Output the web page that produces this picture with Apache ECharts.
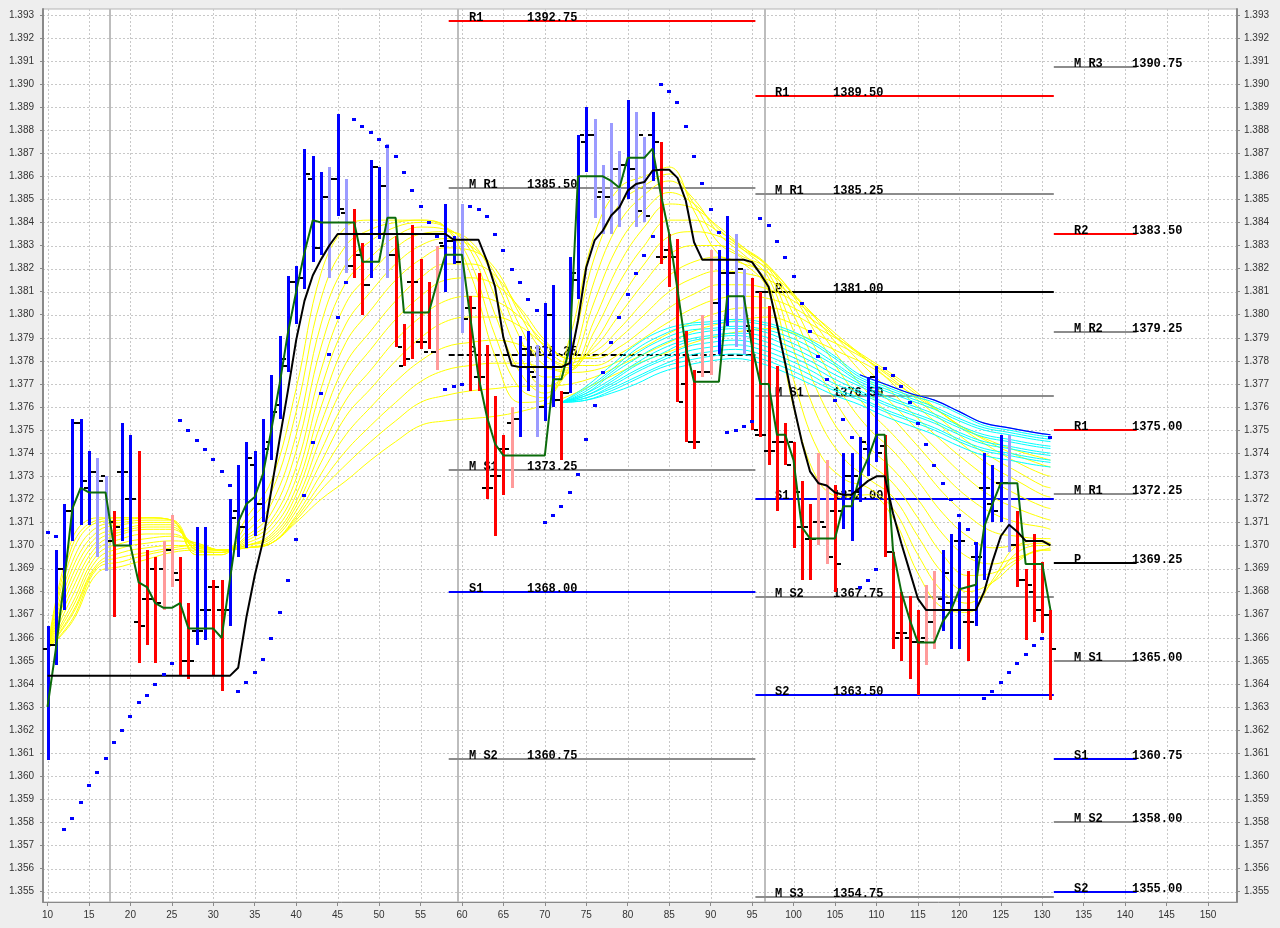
<!DOCTYPE html>
<html>
<head>
<meta charset="utf-8">
<script src="https://cdn.jsdelivr.net/npm/echarts@6/dist/echarts.min.js"></script>
<style>
html,body{margin:0;padding:0;background:#eeeeee;}
#chart{width:1280px;height:928px;}
</style>
</head>
<body>
<div id="chart"></div>
<script>
// ---------------- DATA ----------------
const xStart = 10; // first bar index
const xTicks = [10,15,20,25,30,35,40,45,50,55,60,65,70,75,80,85,90,95,100,105,110,115,120,125,130,135,140,145,150];
const yTicks = [1.355,1.356,1.357,1.358,1.359,1.360,1.361,1.362,1.363,1.364,1.365,1.366,1.367,1.368,1.369,1.370,1.371,1.372,1.373,1.374,1.375,1.376,1.377,1.378,1.379,1.380,1.381,1.382,1.383,1.384,1.385,1.386,1.387,1.388,1.389,1.390,1.391,1.392,1.393];

const highs = [
1.3665,1.3698,1.3718,1.3755,1.3755,1.3741,1.3738,1.3730,1.3715,1.3753,
1.3748,1.3741,1.3698,1.3695,1.3702,1.3713,1.3695,1.3675,1.3708,1.3708,
1.3685,1.3685,1.3720,1.3735,1.3745,1.3741,1.3755,1.3774,1.3791,1.3817,
1.3821,1.3872,1.3869,1.3862,1.3864,1.3887,1.3859,1.3846,1.3831,1.3867,
1.3864,1.3874,1.3834,1.3796,1.3839,1.3824,1.3814,1.3830,1.3848,1.3834,
1.3848,1.3808,1.3818,1.3787,1.3765,1.3748,1.3760,1.3791,1.3793,1.3787,
1.3805,1.3813,1.3767,1.3825,1.3878,1.3890,1.3885,1.3865,1.3883,1.3871,
1.3893,1.3888,1.3877,1.3888,1.3875,1.3835,1.3833,1.3793,1.3776,1.3800,
1.3828,1.3828,1.3843,1.3835,1.3820,1.3816,1.3810,1.3804,1.3778,1.3753,
1.3745,1.3728,1.3718,1.3740,1.3737,1.3726,1.3740,1.3740,1.3747,1.3773,
1.3778,1.3748,1.3697,1.3680,1.3678,1.3672,1.3683,1.3689,1.3698,1.3705,
1.3710,1.3689,1.3701,1.3740,1.3735,1.3748,1.3748,1.3715,1.3690,1.3705,
1.3693,1.3672];
const lows = [
1.3607,1.3648,1.3672,1.3702,1.3709,1.3709,1.3695,1.3689,1.3669,1.3702,
1.3700,1.3649,1.3657,1.3649,1.3672,1.3682,1.3644,1.3642,1.3657,1.3659,
1.3644,1.3637,1.3665,1.3695,1.3699,1.3704,1.3710,1.3737,1.3755,1.3775,
1.3796,1.3811,1.3823,1.3826,1.3816,1.3843,1.3818,1.3816,1.3800,1.3816,
1.3833,1.3816,1.3786,1.3778,1.3781,1.3785,1.3785,1.3776,1.3810,1.3822,
1.3792,1.3767,1.3767,1.3720,1.3704,1.3722,1.3725,1.3747,1.3767,1.3747,
1.3754,1.3760,1.3737,1.3766,1.3807,1.3862,1.3842,1.3835,1.3835,1.3838,
1.3850,1.3838,1.3840,1.3858,1.3822,1.3812,1.3762,1.3745,1.3742,1.3773,
1.3774,1.3783,1.3795,1.3786,1.3783,1.3750,1.3747,1.3735,1.3715,1.3735,
1.3699,1.3685,1.3685,1.3700,1.3692,1.3680,1.3707,1.3702,1.3719,1.3730,
1.3736,1.3695,1.3655,1.3650,1.3642,1.3635,1.3648,1.3655,1.3663,1.3655,
1.3655,1.3650,1.3665,1.3685,1.3710,1.3710,1.3697,1.3682,1.3659,1.3667,
1.3662,1.3633];
const opens = [
1.3655,1.3657,1.3690,1.3715,1.3753,1.3725,1.3732,1.3730,1.3710,1.3732,
1.3720,1.3667,1.3677,1.3690,1.3690,1.3698,1.3685,1.3650,1.3663,1.3672,
1.3682,1.3672,1.3672,1.3715,1.3708,1.3735,1.3718,1.3745,1.3761,1.3778,
1.3814,1.3816,1.3859,1.3829,1.3851,1.3859,1.3844,1.3821,1.3826,1.3813,
1.3864,1.3856,1.3826,1.3778,1.3814,1.3788,1.3784,1.3784,1.3830,1.3832,
1.3823,1.3803,1.3773,1.3725,1.3730,1.3742,1.3753,1.3755,1.3785,1.3773,
1.3760,1.3800,1.3763,1.3766,1.3815,1.3875,1.3878,1.3853,1.3851,1.3863,
1.3865,1.3863,1.3878,1.3878,1.3825,1.3828,1.3825,1.3770,1.3745,1.3775,
1.3775,1.3805,1.3818,1.3818,1.3820,1.3793,1.3748,1.3741,1.3745,1.3745,
1.3745,1.3708,1.3703,1.3710,1.3708,1.3715,1.3715,1.3730,1.3723,1.3742,
1.3773,1.3743,1.3697,1.3662,1.3660,1.3658,1.3660,1.3667,1.3677,1.3675,
1.3702,1.3667,1.3695,1.3725,1.3718,1.3727,1.3727,1.3700,1.3685,1.3680,
1.3672,1.3670];
const closes = [
1.3657,1.3690,1.3715,1.3753,1.3728,1.3732,1.3728,1.3702,1.3708,1.3732,
1.3720,1.3665,1.3677,1.3675,1.3698,1.3688,1.3650,1.3650,1.3663,1.3672,
1.3682,1.3672,1.3712,1.3708,1.3738,1.3718,1.3742,1.3758,1.3781,1.3814,
1.3816,1.3861,1.3829,1.3851,1.3859,1.3846,1.3821,1.3826,1.3813,1.3864,
1.3856,1.3826,1.3786,1.3781,1.3814,1.3788,1.3784,1.3831,1.3832,1.3823,
1.3798,1.3803,1.3773,1.3725,1.3730,1.3742,1.3755,1.3785,1.3775,1.3760,
1.3800,1.3763,1.3766,1.3818,1.3878,1.3878,1.3851,1.3851,1.3863,1.3865,
1.3863,1.3845,1.3843,1.3875,1.3825,1.3825,1.3762,1.3745,1.3745,1.3775,
1.3805,1.3818,1.3818,1.3820,1.3795,1.3750,1.3748,1.3741,1.3745,1.3735,
1.3723,1.3708,1.3703,1.3710,1.3695,1.3692,1.3730,1.3730,1.3745,1.3773,
1.3740,1.3697,1.3660,1.3662,1.3658,1.3658,1.3667,1.3672,1.3688,1.3672,
1.3702,1.3667,1.3695,1.3725,1.3715,1.3727,1.3700,1.3685,1.3683,1.3672,
1.3670,1.3655];
// B = blue, b = light blue, R = red, r = light red
const barColors = "BBBBBBbbRB" + "BRRRrrRRBB" + "RRBBBBBBBB" + "BBBBbBbRRB" + "BbRRRRRrBB" +
                  "bRRRRRrBBb" + "BBRBBBbbbb" + "BbbBRRRRRr" + "rBBbbRRRRR" + "RRRrrRBBBB" +
                  "BRRRRRrrBB" + "BRBBBBbRRR" + "RR";

const greenLine = [
1.3630,1.3655,1.3684,1.3716,1.3725,1.3723,1.3723,1.3723,1.3700,1.3700,
1.3700,1.3684,1.3682,1.3675,1.3673,1.3673,1.3675,1.3664,1.3664,1.3664,
1.3664,1.3660,1.3685,1.3710,1.3718,1.3721,1.3731,1.3750,1.3770,1.3792,
1.3810,1.3827,1.3841,1.3840,1.3840,1.3840,1.3840,1.3840,1.3823,1.3823,
1.3823,1.3842,1.3842,1.3801,1.3801,1.3801,1.3801,1.3814,1.3826,1.3826,
1.3826,1.3799,1.3773,1.3756,1.3744,1.3739,1.3739,1.3739,1.3739,1.3739,
1.3739,1.3772,1.3772,1.3786,1.3860,1.3860,1.3860,1.3860,1.3858,1.3855,
1.3868,1.3868,1.3868,1.3872,1.3852,1.3835,1.3811,1.3786,1.3771,1.3771,
1.3771,1.3771,1.3808,1.3808,1.3808,1.3786,1.3770,1.3770,1.3748,1.3748,
1.3737,1.3708,1.3703,1.3703,1.3703,1.3703,1.3717,1.3717,1.3730,1.3738,
1.3748,1.3748,1.3698,1.3680,1.3668,1.3658,1.3658,1.3658,1.3667,1.3672,
1.3681,1.3682,1.3683,1.3708,1.3718,1.3727,1.3727,1.3727,1.3692,1.3692,
1.3692,1.3672];

const blackLine = [
1.36435,1.36435,1.36435,1.36435,1.36435,1.36435,1.36435,1.36435,1.36435,1.36435,
1.36435,1.36435,1.36435,1.36435,1.36435,1.36435,1.36435,1.36435,1.36435,1.36435,
1.36435,1.36435,1.36435,1.3647,1.3669,1.3687,1.3702,1.3724,1.3746,1.3767,
1.3789,1.3806,1.3817,1.3824,1.3830,1.3835,1.3835,1.3835,1.3835,1.3835,
1.3835,1.3835,1.3835,1.3835,1.3835,1.3835,1.3835,1.3835,1.3835,1.38325,
1.38325,1.38325,1.38325,1.38235,1.3812,1.3790,1.3778,1.37773,1.37773,1.37773,
1.37773,1.37773,1.37773,1.3779,1.37975,1.38206,1.38322,1.38365,1.3843,1.38466,
1.38538,1.38567,1.38575,1.38625,1.38628,1.38628,1.38593,1.38495,1.38314,1.38238,
1.38238,1.38238,1.38238,1.38238,1.38238,1.38228,1.38177,1.3812,1.3796,1.3779,
1.3761,1.3745,1.3732,1.3727,1.3726,1.3723,1.3722,1.3722,1.3725,1.3728,
1.3730,1.3730,1.3714,1.3701,1.3689,1.3677,1.3672,1.3672,1.3672,1.3672,
1.3672,1.3672,1.3672,1.3680,1.3693,1.3704,1.3709,1.3706,1.3702,1.3702,
1.3702,1.3700];

const sarDots = [
1.3706,1.3704,1.3577,1.3582,1.3589,1.3596,1.3602,1.3608,1.3615,1.3620,
1.3626,1.3632,1.3635,1.3640,1.36445,1.3649,1.37545,1.37502,1.37458,1.37418,
1.37374,1.37321,1.37263,1.3637,1.3641,1.3645,1.3651,1.3660,1.3671,1.3685,
1.3703,1.3722,1.3745,1.3766,1.3783,1.3799,1.3814,1.3885,1.3882,1.3879,
1.3876,1.3873,1.3869,1.3862,1.3854,1.3847,1.3840,1.3834,1.3768,1.3769,
1.3770,1.3847,1.3846,1.3843,1.3835,1.3828,1.3820,1.3814,1.3807,1.3802,
1.3710,1.3713,1.3717,1.3723,1.3731,1.3746,1.3761,1.3775,1.3788,1.3799,
1.3809,1.3818,1.3826,1.3834,1.3900,1.3897,1.3892,1.3882,1.3869,1.3857,
1.3846,1.3836,1.3749,1.3750,1.3752,1.3754,1.3842,1.3839,1.3832,1.3825,
1.3817,1.3805,1.3793,1.3782,1.3772,1.3763,1.3755,1.3747,1.3682,1.3685,
1.3690,1.3777,1.3774,1.3769,1.3762,1.3753,1.3744,1.3735,1.3727,1.3720,
1.3713,1.3707,1.3701,1.3634,1.3637,1.3641,1.3645,1.3649,1.3653,1.3657,
1.3660,1.3747];

// yellow fan of moving-average lines, sampled at fanKnots (fastest first)
const fanKnots = [10,13,16,19,22,25,28,31,34,37,40,43,46,49,52,55,58,61,64,67,70,73,76,79,82,85,88,91,94,97,100,103,106,109,112,115,118,121,124,127,130,131];
const yellowA = [1.3655,1.3703,1.3712,1.3712,1.3712,1.3711,1.3696,1.3696,1.3712,1.3728,1.3768,1.3818,1.3838,1.3841,1.3841,1.3841,1.3838,1.3818,1.3782,1.3762,1.3763,1.3790,1.3835,1.3855,1.3860,1.3864,1.3845,1.3826,1.3822,1.3810,1.3760,1.3728,1.3721,1.3722,1.3712,1.3688,1.3673,1.3671,1.3685,1.3700,1.3702,1.3701];
const yellowB = [1.3655,1.3700,1.3711,1.3712,1.3712,1.3711,1.3696,1.3696,1.3709,1.3723,1.3758,1.3807,1.3830,1.3837,1.3840,1.3841,1.3838,1.3823,1.3791,1.3768,1.3764,1.3784,1.3825,1.3848,1.3856,1.3861,1.3848,1.3831,1.3824,1.3813,1.3772,1.3741,1.3729,1.3725,1.3716,1.3696,1.3680,1.3675,1.3684,1.3697,1.3700,1.3700];
const yellowC = [1.3655,1.3697,1.3710,1.3711,1.3712,1.3711,1.3697,1.3697,1.3706,1.3718,1.3748,1.3796,1.3822,1.3832,1.3838,1.3840,1.3838,1.3828,1.3800,1.3775,1.3766,1.3778,1.3815,1.3840,1.3852,1.3858,1.3850,1.3835,1.3826,1.3816,1.3785,1.3755,1.3738,1.3729,1.3721,1.3704,1.3688,1.3680,1.3684,1.3693,1.3698,1.3698];
const yellowD = [1.3655,1.3693,1.3708,1.3710,1.3711,1.3711,1.3698,1.3697,1.3704,1.3714,1.3741,1.3786,1.3814,1.3825,1.3834,1.3838,1.3837,1.3830,1.3808,1.3782,1.3769,1.3776,1.3806,1.3831,1.3845,1.3853,1.3848,1.3837,1.3828,1.3818,1.3793,1.3766,1.3747,1.3736,1.3727,1.3712,1.3696,1.3687,1.3688,1.3694,1.3698,1.3698];
const yellowE = [1.3655,1.3690,1.3706,1.3709,1.3710,1.3710,1.3698,1.3697,1.3703,1.3711,1.3734,1.3776,1.3805,1.3818,1.3829,1.3835,1.3836,1.3832,1.3815,1.3790,1.3773,1.3775,1.3798,1.3822,1.3838,1.3848,1.3846,1.3838,1.3829,1.3820,1.3800,1.3776,1.3757,1.3743,1.3733,1.3720,1.3705,1.3695,1.3692,1.3695,1.3698,1.3699];
const yellowF = [1.3655,1.3687,1.3704,1.3707,1.3709,1.3709,1.3698,1.3697,1.3702,1.3709,1.3729,1.3768,1.3796,1.3810,1.3822,1.3830,1.3833,1.3830,1.3818,1.3795,1.3778,1.3776,1.3793,1.3814,1.3830,1.3841,1.3841,1.3836,1.3829,1.3821,1.3804,1.3783,1.3765,1.3751,1.3741,1.3728,1.3714,1.3704,1.3699,1.3700,1.3701,1.3701];
const yellowG = [1.3655,1.3684,1.3702,1.3706,1.3708,1.3708,1.3699,1.3698,1.3701,1.3707,1.3725,1.3760,1.3788,1.3802,1.3815,1.3824,1.3829,1.3828,1.3820,1.3800,1.3783,1.3777,1.3788,1.3806,1.3822,1.3834,1.3836,1.3834,1.3828,1.3821,1.3808,1.3790,1.3773,1.3759,1.3748,1.3736,1.3723,1.3713,1.3706,1.3704,1.3703,1.3703];
const yellowH = [1.3655,1.3681,1.3700,1.3705,1.3707,1.3707,1.3700,1.3698,1.3700,1.3705,1.3722,1.3753,1.3779,1.3793,1.3806,1.3816,1.3822,1.3822,1.3817,1.3802,1.3786,1.3779,1.3786,1.3800,1.3814,1.3826,1.3830,1.3830,1.3825,1.3820,1.3809,1.3794,1.3779,1.3766,1.3755,1.3743,1.3731,1.3721,1.3714,1.3710,1.3708,1.3707];
const yellowI = [1.3655,1.3678,1.3698,1.3703,1.3705,1.3705,1.3700,1.3698,1.3700,1.3704,1.3719,1.3747,1.3771,1.3785,1.3798,1.3808,1.3815,1.3816,1.3813,1.3803,1.3789,1.3781,1.3784,1.3794,1.3806,1.3817,1.3823,1.3825,1.3822,1.3818,1.3809,1.3797,1.3784,1.3772,1.3761,1.3750,1.3739,1.3729,1.3721,1.3716,1.3712,1.3711];
const yellowJ = [1.3655,1.3675,1.3696,1.3701,1.3703,1.3704,1.3701,1.3698,1.3700,1.3703,1.3717,1.3741,1.3763,1.3776,1.3789,1.3799,1.3806,1.3808,1.3806,1.3799,1.3788,1.3781,1.3782,1.3790,1.3800,1.3810,1.3816,1.3819,1.3818,1.3815,1.3808,1.3798,1.3787,1.3776,1.3766,1.3755,1.3745,1.3736,1.3728,1.3722,1.3717,1.3716];
const yellowK = [1.3655,1.3673,1.3694,1.3699,1.3701,1.3702,1.3701,1.3698,1.3699,1.3702,1.3715,1.3736,1.3756,1.3768,1.3780,1.3790,1.3797,1.3799,1.3799,1.3795,1.3787,1.3781,1.3781,1.3786,1.3794,1.3803,1.3809,1.3813,1.3813,1.3811,1.3806,1.3798,1.3789,1.3780,1.3770,1.3760,1.3751,1.3742,1.3734,1.3728,1.3722,1.3721];
const yellowL = [1.3655,1.3671,1.3692,1.3697,1.3699,1.3700,1.3700,1.3698,1.3699,1.3701,1.3713,1.3731,1.3748,1.3760,1.3771,1.3780,1.3786,1.3788,1.3789,1.3787,1.3782,1.3778,1.3778,1.3783,1.3790,1.3797,1.3803,1.3807,1.3808,1.3807,1.3803,1.3796,1.3788,1.3780,1.3772,1.3763,1.3754,1.3745,1.3738,1.3732,1.3726,1.3725];
const yellowM = [1.3655,1.3670,1.3691,1.3695,1.3697,1.3699,1.3700,1.3698,1.3699,1.3701,1.3712,1.3727,1.3741,1.3752,1.3762,1.3771,1.3776,1.3778,1.3779,1.3779,1.3777,1.3775,1.3776,1.3780,1.3786,1.3792,1.3797,1.3801,1.3803,1.3803,1.3800,1.3794,1.3788,1.3781,1.3774,1.3766,1.3757,1.3749,1.3742,1.3736,1.3731,1.3730];
const yellowN = [1.3655,1.3668,1.3690,1.3693,1.3696,1.3698,1.3699,1.3698,1.3699,1.3701,1.3711,1.3724,1.3735,1.3745,1.3754,1.3762,1.3765,1.3767,1.3768,1.3769,1.3769,1.3770,1.3773,1.3778,1.3783,1.3788,1.3793,1.3796,1.3798,1.3799,1.3796,1.3791,1.3786,1.3780,1.3773,1.3765,1.3757,1.3750,1.3744,1.3739,1.3735,1.3734];
const yellowO = [1.3655,1.3667,1.3688,1.3691,1.3694,1.3697,1.3698,1.3698,1.3699,1.3701,1.3710,1.3720,1.3728,1.3737,1.3745,1.3752,1.3754,1.3755,1.3756,1.3758,1.3761,1.3765,1.3770,1.3775,1.3780,1.3784,1.3788,1.3791,1.3793,1.3794,1.3792,1.3788,1.3783,1.3778,1.3771,1.3764,1.3757,1.3750,1.3745,1.3741,1.3738,1.3737];

// cyan fan, sampled at cyanKnots (top first)
const cyanKnots = [72,75,78,81,84,87,90,93,96,99,102,105,108,111,114,117,120,123,126,129,131];
const cyanA = [1.3762,1.3769,1.3778,1.3787,1.3793,1.3796,1.3797,1.3798,1.3797,1.3794,1.3789,1.3782,1.3774,1.3770,1.3766,1.3763,1.3758,1.3753,1.3751,1.3749,1.3748];
const cyanB = [1.3762,1.3768,1.3776,1.3785,1.3791,1.3795,1.3796,1.3797,1.3796,1.3793,1.3788,1.3781,1.3773,1.3769,1.3765,1.3762,1.3757,1.3752,1.3750,1.3748,1.3747];
const cyanC = [1.3762,1.3767,1.3775,1.3783,1.3789,1.3793,1.3794,1.3795,1.3794,1.3791,1.3786,1.3779,1.3772,1.3768,1.3764,1.3760,1.3755,1.3751,1.3749,1.3747,1.3746];
const cyanD = [1.3762,1.3766,1.3774,1.3781,1.3787,1.3791,1.3793,1.3794,1.3793,1.3789,1.3784,1.3778,1.3771,1.3767,1.3763,1.3759,1.3754,1.3750,1.3748,1.3746,1.3745];
const cyanE = [1.3762,1.3766,1.3772,1.3779,1.3785,1.3789,1.3791,1.3792,1.3791,1.3787,1.3782,1.3776,1.3770,1.3765,1.3761,1.3757,1.3752,1.3748,1.3746,1.3744,1.3743];
const cyanF = [1.3762,1.3765,1.3771,1.3778,1.3783,1.3788,1.3790,1.3791,1.3789,1.3785,1.3780,1.3774,1.3769,1.3764,1.3760,1.3756,1.3751,1.3747,1.3745,1.3743,1.3742];
const cyanG = [1.3762,1.3765,1.3770,1.3776,1.3781,1.3786,1.3788,1.3789,1.3787,1.3783,1.3778,1.3772,1.3767,1.3762,1.3758,1.3754,1.3749,1.3745,1.3743,1.3741,1.3740];
const cyanH = [1.3762,1.3764,1.3769,1.3775,1.3780,1.3784,1.3786,1.3787,1.3785,1.3781,1.3776,1.3770,1.3766,1.3761,1.3757,1.3753,1.3748,1.3744,1.3742,1.3740,1.3739];
const cyanI = [1.3762,1.3764,1.3768,1.3773,1.3778,1.3782,1.3784,1.3785,1.3783,1.3779,1.3774,1.3768,1.3764,1.3759,1.3755,1.3751,1.3746,1.3742,1.3740,1.3738,1.3737];
const cyanJ = [1.3762,1.3763,1.3767,1.3772,1.3777,1.3780,1.3782,1.3783,1.3781,1.3777,1.3772,1.3767,1.3763,1.3758,1.3754,1.3750,1.3745,1.3741,1.3739,1.3737,1.3736];
const cyanK = [1.3762,1.3763,1.3766,1.3770,1.3775,1.3778,1.3780,1.3781,1.3779,1.3775,1.3770,1.3765,1.3761,1.3756,1.3752,1.3748,1.3743,1.3739,1.3737,1.3735,1.3734];
const blueTopKnots = [108,111,114,117,120,123,126,129,131];
const blueTop = [1.3774,1.3770,1.3766,1.3763,1.3758,1.3753,1.3751,1.3749,1.3748];

// pivot levels for three sessions
const sessionBounds = [[58.4, 95.4], [95.4, 131.4], [131.4, 141.4]];
const session1Names = ['R1','M R1','P','M S1','S1','M S2'];
const session1Levels = [1.39275,1.3855,1.37825,1.37325,1.368,1.36075];
const session2Names = ['R1','M R1','P','M S1','S1','M S2','S2','M S3'];
const session2Levels = [1.3895,1.38525,1.381,1.3765,1.372,1.36775,1.3635,1.35475];
const session3Names = ['M R3','R2','M R2','R1','M R1','P','M S1','S1','M S2','S2'];
const session3Levels = [1.39075,1.3835,1.37925,1.375,1.37225,1.36925,1.365,1.36075,1.358,1.355];
const sessionSeparators = [17.5, 59.5, 96.5];

// ---------------- BUILD ----------------
const X_MIN = 9.457, X_MAX = 153.5, Y_MIN = 1.35455, Y_MAX = 1.39325;
const barPalette = {B:'#0000ff', b:'#9b9bff', R:'#ff0000', r:'#ff9b9b'};
const levelColor = n => n[0]==='R' ? '#ff0000' : n[0]==='S' ? '#0000ff' : n[0]==='P' ? '#000000' : '#8c8c8c';

const barData = highs.map((h,i)=>[xStart+i, h, lows[i], opens[i], closes[i]]);
const series = [];

// dashed grid lines at the tick values
series.push({
  type:'custom', z:0, silent:true, clip:true,
  data: xTicks.map(v=>[v, Y_MIN]),
  renderItem:(params, api)=>{
    const x = api.value(0);
    const p0 = api.coord([x, Y_MAX]), p1 = api.coord([x, Y_MIN]);
    const xx = Math.round(p0[0]) + 0.5;
    return {type:'line', shape:{x1:xx,y1:p0[1],x2:xx,y2:p1[1]}, style:{stroke:'#c8c8c8', lineWidth:1, lineDash:[2,2]}};
  }
});
series.push({
  type:'custom', z:0, silent:true, clip:true,
  data: yTicks.map(v=>[X_MIN, v]),
  renderItem:(params, api)=>{
    const y = api.value(1);
    const p0 = api.coord([X_MIN, y]), p1 = api.coord([X_MAX, y]);
    const yy = Math.round(p0[1]) + 0.5;
    return {type:'line', shape:{x1:p0[0],y1:yy,x2:p1[0],y2:yy}, style:{stroke:'#c8c8c8', lineWidth:1, lineDash:[2,2]}};
  }
});

// session separators
series.push({
  type:'custom', z:1, silent:true, clip:true,
  data: sessionSeparators.map(v=>[v, Y_MIN]),
  renderItem:(params, api)=>{
    const x = api.value(0);
    const p0 = api.coord([x, Y_MAX]), p1 = api.coord([x, Y_MIN]);
    const xx = Math.round(p0[0]);
    return {type:'line', shape:{x1:xx,y1:p0[1],x2:xx,y2:p1[1]}, style:{stroke:'#bdbdbd', lineWidth:2}};
  }
});

// pivot levels
const sessNames = [session1Names, session2Names, session3Names];
const sessLevels = [session1Levels, session2Levels, session3Levels];
const pivotData = [];
const pivotLabelNames = [];
sessLevels.forEach((lv, s)=>{
  lv.forEach((v, k)=>{
    pivotData.push([sessionBounds[s][0], v, sessionBounds[s][1], s]);
    pivotLabelNames.push(sessNames[s][k]);
  });
});
series.push({
  type:'custom', z:2, silent:true, clip:false,
  data: pivotData,
  renderItem:(params, api)=>{
    const x0 = api.value(0), v = api.value(1), x1 = api.value(2), s = api.value(3);
    const name = pivotLabelNames[params.dataIndex];
    const p0 = api.coord([x0, v]), p1 = api.coord([x1, v]);
    const yy = Math.round(p0[1]);
    const col = levelColor(name);
    const dashed = (s === 0 && name === 'P');
    const valText = (v*1000).toFixed(2);
    const font = 'bold 12px "Liberation Mono", "DejaVu Sans Mono", monospace';
    return {type:'group', children:[
      {type:'line', shape:{x1:p0[0],y1:yy,x2:p1[0],y2:yy}, style:{stroke:col, lineWidth:2, lineDash: dashed ? [6,3] : null}},
      {type:'text', x:Math.round(p0[0])+20, y:yy+3, style:{text:name, fill:'#000', font:font, align:'left', verticalAlign:'bottom'}},
      {type:'text', x:Math.round(p0[0])+78, y:yy+3, style:{text:valText, fill:'#000', font:font, align:'left', verticalAlign:'bottom'}}
    ]};
  }
});

// yellow fan
[yellowA,yellowB,yellowC,yellowD,yellowE,yellowF,yellowG,yellowH,yellowI,yellowJ,yellowK,yellowL,yellowM,yellowN,yellowO].forEach(arr=>{
  series.push({type:'line', z:3, silent:true, smooth:0.4, symbol:'none',
    data: fanKnots.map((k,i)=>[k, arr[i]]),
    lineStyle:{color:'#ffff00', width:1}});
});
// cyan fan
[cyanA,cyanB,cyanC,cyanD,cyanE,cyanF,cyanG,cyanH,cyanI,cyanJ,cyanK].forEach(arr=>{
  series.push({type:'line', z:4, silent:true, smooth:0.4, symbol:'none',
    data: cyanKnots.map((k,i)=>[k, arr[i]]),
    lineStyle:{color:'#00ffff', width:1}});
});
series.push({type:'line', z:4, silent:true, smooth:0.4, symbol:'none',
  data: blueTopKnots.map((k,i)=>[k, blueTop[i]]),
  lineStyle:{color:'#0000ff', width:1.2}});

// price bars (pixel-snapped)
series.push({
  type:'custom', z:5, silent:true,
  data: barData,
  renderItem:(params, api)=>{
    const x = api.value(0);
    const ph = api.coord([x, api.value(1)]);
    const pl = api.coord([x, api.value(2)]);
    const po = api.coord([x, api.value(3)]);
    const pc = api.coord([x, api.value(4)]);
    const cx = Math.round(ph[0]);
    const top = Math.round(ph[1]), bot = Math.round(pl[1]);
    const col = barPalette[barColors[params.dataIndex]];
    return {type:'group', children:[
      {type:'rect', shape:{x:cx-1, y:top, width:3, height:Math.max(1, bot-top)}, style:{fill:col}},
      {type:'rect', shape:{x:cx-5, y:Math.round(po[1])-1, width:4, height:2}, style:{fill:'#000'}},
      {type:'rect', shape:{x:cx+2, y:Math.round(pc[1])-1, width:4, height:2}, style:{fill:'#000'}}
    ]};
  }
});

// green & black moving averages
series.push({type:'line', z:6, silent:true, symbol:'none',
  data: greenLine.map((v,i)=>[xStart+i, v]), lineStyle:{color:'#0b6b0b', width:2}});
series.push({type:'line', z:6, silent:true, symbol:'none',
  data: blackLine.map((v,i)=>[xStart+i, v]), lineStyle:{color:'#000000', width:2}});

// parabolic SAR (pixel-snapped small squares)
series.push({
  type:'custom', z:7, silent:true,
  data: sarDots.map((v,i)=>[xStart+i, v]),
  renderItem:(params, api)=>{
    const p = api.coord([api.value(0), api.value(1)]);
    return {type:'rect', shape:{x:Math.round(p[0])-2, y:Math.round(p[1])-1, width:4, height:3}, style:{fill:'#0000ff'}};
  }
});

const labelStyle = {fontFamily:'"Liberation Sans", Arial, sans-serif', fontSize:10, color:'#333333'};

const option = {
  animation:false,
  backgroundColor:'#eeeeee',
  grid:{left:43, right:43, top:9, bottom:26, show:true, backgroundColor:'#ffffff', borderColor:'#b4b4b4', borderWidth:1},
  xAxis:{
    type:'value', min:X_MIN, max:X_MAX,
    axisLine:{show:true, onZero:false, lineStyle:{color:'#8a8a8a', width:1}},
    axisTick:{show:true, length:4, customValues:xTicks, lineStyle:{color:'#8a8a8a'}},
    axisLabel:Object.assign({show:true, margin:8, customValues:xTicks, formatter:v=>String(v)}, labelStyle),
    splitLine:{show:false}, minorSplitLine:{show:false}
  },
  yAxis:[{
    type:'value', min:Y_MIN, max:Y_MAX, position:'left',
    axisLine:{show:true, onZero:false, lineStyle:{color:'#8a8a8a', width:2}},
    axisTick:{show:true, length:3, customValues:yTicks, lineStyle:{color:'#8a8a8a'}},
    axisLabel:Object.assign({show:true, margin:9, customValues:yTicks, formatter:v=>v.toFixed(3)}, labelStyle),
    splitLine:{show:false}, minorSplitLine:{show:false}
  },{
    type:'value', min:Y_MIN, max:Y_MAX, position:'right',
    axisLine:{show:true, onZero:false, lineStyle:{color:'#8a8a8a', width:2}},
    axisTick:{show:true, length:3, customValues:yTicks, lineStyle:{color:'#8a8a8a'}},
    axisLabel:Object.assign({show:true, margin:7, customValues:yTicks, formatter:v=>v.toFixed(3)}, labelStyle),
    splitLine:{show:false}, minorSplitLine:{show:false}
  }],
  series: series
};

const chart = echarts.init(document.getElementById('chart'), null, {renderer:'canvas'});
chart.setOption(option);
</script>
</body>
</html>
